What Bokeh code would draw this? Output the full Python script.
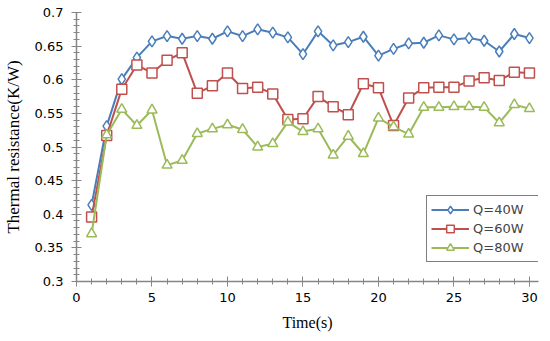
from bokeh.plotting import figure
from bokeh.models import SingleIntervalTicker, CustomJSTickFormatter, Range1d, Legend, LegendItem
from bokeh.embed import file_html
from bokeh.resources import INLINE

time_s = list(range(1, 31))
q40 = [0.414, 0.531, 0.601, 0.633, 0.657, 0.665, 0.661, 0.665, 0.661, 0.672,
       0.665, 0.675, 0.670, 0.663, 0.638, 0.672, 0.651, 0.656, 0.664, 0.636,
       0.646, 0.654, 0.655, 0.666, 0.660, 0.662, 0.658, 0.642, 0.668, 0.662]
q60 = [0.396, 0.517, 0.586, 0.622, 0.610, 0.629, 0.640, 0.580, 0.591, 0.610,
       0.587, 0.589, 0.579, 0.541, 0.542, 0.575, 0.560, 0.548, 0.594, 0.588,
       0.532, 0.573, 0.588, 0.589, 0.589, 0.598, 0.603, 0.599, 0.611, 0.610]
q80 = [0.371, 0.518, 0.556, 0.532, 0.555, 0.473, 0.480, 0.520, 0.527, 0.533,
       0.526, 0.500, 0.505, 0.537, 0.523, 0.527, 0.488, 0.516, 0.490, 0.543,
       0.530, 0.519, 0.559, 0.559, 0.560, 0.560, 0.559, 0.536, 0.563, 0.557]
series_labels = ["Q=40W", "Q=60W", "Q=80W"]

p = figure(width=542, height=333, output_backend="svg", toolbar_location=None,
           x_range=Range1d(0, 30.6), y_range=Range1d(0.3, 0.70001),
           min_border_left=75, min_border_right=4, min_border_top=12, min_border_bottom=50)
p.outline_line_color = None
p.xgrid.visible = False
p.ygrid.visible = False

blue, red, green = "#4a7ebb", "#c0504d", "#9bbb59"

r1l = p.line(time_s, q40, line_color=blue, line_width=2)
r1m = p.scatter(time_s, q40, marker="diamond", size=11, line_color=blue, fill_color="white", line_width=1.5)
r2l = p.line(time_s, q60, line_color=red, line_width=2)
r2m = p.scatter(time_s, q60, marker="square", size=10, line_color=red, fill_color="white", line_width=1.5)
r3l = p.line(time_s, q80, line_color=green, line_width=2)
r3m = p.scatter(time_s, q80, marker="triangle", size=10, line_color=green, fill_color="white", line_width=1.5)

axis_color = "#868686"
for ax in (p.xaxis[0], p.yaxis[0]):
    ax.axis_line_color = axis_color
    ax.axis_line_width = 1.5
    ax.major_tick_line_color = axis_color
    ax.minor_tick_line_color = axis_color
    ax.major_tick_in = 5
    ax.major_tick_out = 5
    ax.minor_tick_in = 3
    ax.minor_tick_out = 3
    ax.major_label_text_font = "DejaVu Sans"
    ax.major_label_text_font_size = "13px"
    ax.major_label_text_color = "#000000"
    ax.axis_label_text_font = "Liberation Serif"
    ax.axis_label_text_font_style = "normal"
    ax.axis_label_text_color = "#000000"

p.xaxis[0].ticker = SingleIntervalTicker(interval=5, num_minor_ticks=5)
p.yaxis[0].ticker = SingleIntervalTicker(interval=0.05, num_minor_ticks=5)
p.yaxis[0].formatter = CustomJSTickFormatter(code="return parseFloat(tick.toFixed(2)).toString();")
p.xaxis[0].axis_label = "Time(s)"
p.yaxis[0].axis_label = "Thermal resistance(K/W)"
p.xaxis[0].axis_label_text_font_size = "16px"
p.yaxis[0].axis_label_text_font_size = "17px"
p.xaxis[0].major_label_standoff = 6
p.yaxis[0].major_label_standoff = 8
p.xaxis[0].axis_label_standoff = 9
p.yaxis[0].axis_label_standoff = 9

legend = Legend(items=[LegendItem(label=series_labels[0], renderers=[r1l, r1m]),
                       LegendItem(label=series_labels[1], renderers=[r2l, r2m]),
                       LegendItem(label=series_labels[2], renderers=[r3l, r3m])],
                location=(350, 19))
legend.border_line_color = "black"
legend.border_line_width = 1.5
legend.label_text_font = "DejaVu Sans"
legend.label_text_font_size = "13px"
legend.glyph_width = 38
legend.label_width = 80
legend.label_standoff = 4
legend.spacing = 0
legend.padding = 4
legend.margin = 0
legend.label_height = 19
legend.glyph_height = 19
p.add_layout(legend, "center")

open("out.html", "w").write(file_html(p, INLINE))
